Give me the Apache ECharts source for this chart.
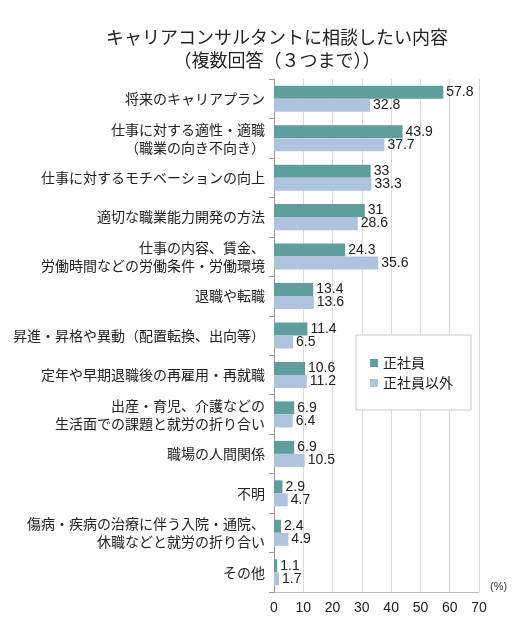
<!DOCTYPE html>
<html>
<head>
<meta charset="utf-8">
<script src="https://cdn.jsdelivr.net/npm/echarts@6/dist/echarts.min.js"></script>
<style>
  html, body { margin: 0; padding: 0; background: #fff; }
  #chart { width: 523px; height: 630px; }
</style>
</head>
<body>
<div id="chart"></div>
<script>
// カテゴリ（上から順）
var categories = [
  '将来のキャリアプラン',
  '仕事に対する適性・適職\n（職業の向き不向き）',
  '仕事に対するモチベーションの向上',
  '適切な職業能力開発の方法',
  '仕事の内容、賃金、\n労働時間などの労働条件・労働環境',
  '退職や転職',
  '昇進・昇格や異動（配置転換、出向等）',
  '定年や早期退職後の再雇用・再就職',
  '出産・育児、介護などの\n生活面での課題と就労の折り合い',
  '職場の人間関係',
  '不明',
  '傷病・疾病の治療に伴う入院・通院、\n休職などと就労の折り合い',
  'その他'
];
var seriesNames = ['正社員', '正社員以外'];
var regular = [57.8, 43.9, 33, 31, 24.3, 13.4, 11.4, 10.6, 6.9, 6.9, 2.9, 2.4, 1.1];
var nonRegular = [32.8, 37.7, 33.3, 28.6, 35.6, 13.6, 6.5, 11.2, 6.4, 10.5, 4.7, 4.9, 1.7];
var xTicks = [0, 10, 20, 30, 40, 50, 60, 70];

var font = '"Noto Sans CJK JP", "Noto Sans", sans-serif';
var numFont = '"Liberation Sans", Arial, sans-serif';
var chart = echarts.init(document.getElementById('chart'));

var labelStyle = {
  show: true,
  position: 'right',
  distance: 3,
  color: '#222',
  fontSize: 14,
  fontFamily: numFont
};

chart.setOption({
  animation: false,
  textStyle: { fontFamily: font },
  title: {
    text: 'キャリアコンサルタントに相談したい内容\n（複数回答（３つまで））',
    left: 272,
    textAlign: 'center',
    top: 21,
    textStyle: { fontSize: 18, fontWeight: 'normal', color: '#222', lineHeight: 23, fontFamily: font }
  },
  legend: {
    orient: 'vertical',
    left: 356,
    top: 335,
    width: 109,
    padding: [21, 18, 20, 14],
    itemGap: 6,
    itemWidth: 8,
    itemHeight: 8,
    icon: 'rect',
    borderColor: '#c8c8c8',
    borderWidth: 1,
    backgroundColor: '#fff',
    textStyle: { fontSize: 14, color: '#222', fontFamily: font },
    data: seriesNames
  },
  grid: { left: 274, right: 44, top: 79, bottom: 38, containLabel: false },
  xAxis: {
    type: 'value',
    min: xTicks[0],
    max: xTicks[xTicks.length - 1],
    interval: 10,
    name: '(%)',
    nameLocation: 'end',
    nameGap: 11,
    nameTextStyle: { fontSize: 11, color: '#333', fontFamily: numFont, verticalAlign: 'bottom', padding: [0, 0, 0, 0] },
    axisLine: { show: true, lineStyle: { color: '#bbb' } },
    axisTick: { show: false },
    axisLabel: { fontSize: 14, color: '#222', margin: 9, fontFamily: numFont },
    splitLine: { show: true, lineStyle: { color: '#d9d9d9' } }
  },
  yAxis: {
    type: 'category',
    inverse: true,
    data: categories,
    axisLine: { show: true, lineStyle: { color: '#999' } },
    axisTick: { show: true, length: 5, inside: false, lineStyle: { color: '#999' } },
    axisLabel: { fontSize: 14, color: '#222', margin: 9, lineHeight: 18, align: 'right' }
  },
  series: [
    {
      name: seriesNames[0],
      type: 'bar',
      data: regular,
      barGap: '0%',
      barCategoryGap: '34%',
      itemStyle: { color: '#5f9e9d' },
      label: labelStyle
    },
    {
      name: seriesNames[1],
      type: 'bar',
      data: nonRegular,
      itemStyle: { color: '#b0c3de' },
      label: labelStyle
    }
  ]
});
</script>
</body>
</html>
